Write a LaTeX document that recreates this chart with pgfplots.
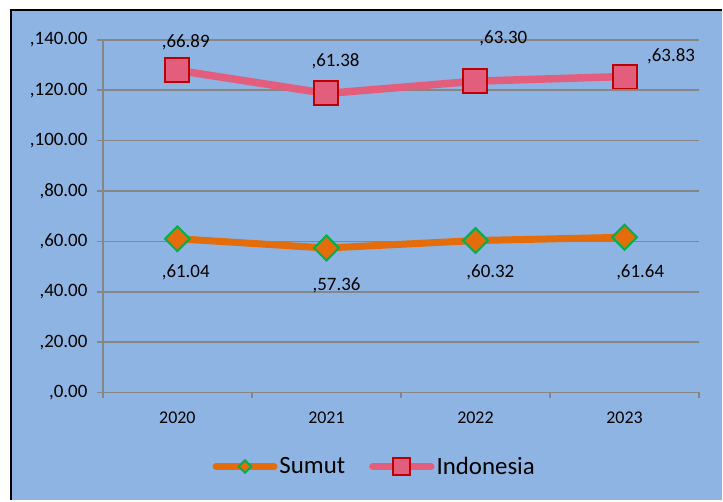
\documentclass[border=0pt]{standalone}
\usepackage{pgfplots}
\pgfplotsset{compat=1.18}
\usepackage{fontspec}
\setmainfont{Carlito}

\definecolor{bgblue}{RGB}{141,180,226}
\definecolor{gridgray}{RGB}{134,134,134}
\definecolor{sumut}{RGB}{228,108,10}
\definecolor{sumutedge}{RGB}{0,176,80}
\definecolor{indo}{RGB}{226,94,124}
\definecolor{indoedge}{RGB}{192,0,0}

\tikzset{
    datalbl/.style={anchor=base, font=\fontsize{19}{21}\selectfont, inner sep=0pt},
    legmark/.style={},
}

\begin{document}
\begin{tikzpicture}[x=1bp,y=1bp]
% chart area: white margin, blue fill, black frame on the visible sides
\fill[white] (0,0) rectangle (723,501);
\fill[bgblue] (11,0) rectangle (723,491);
\draw[black, line width=2bp] (11,0) -- (11,491) -- (723,491);
\path[use as bounding box] (0,0) rectangle (723,501);

\begin{axis}[
    at={(103bp,108bp)}, anchor=south west,
    scale only axis, width=597bp, height=353bp,
    xmin=-0.5, xmax=3.5, ymin=0, ymax=140,
    axis x line*=bottom, axis y line*=left,
    axis line style={gridgray, line width=1.6bp, -},
    ymajorgrids, grid style={gridgray, line width=1.6bp},
    ytick={0,20,...,140},
    yticklabels={{,0.00},{,20.00},{,40.00},{,60.00},{,80.00},{,100.00},{,120.00},{,140.00}},
    xtick={0,1,2,3}, xticklabels={2020,2021,2022,2023},
    minor xtick={-0.5,0.5,1.5,2.5,3.5},
    tick align=outside,
    major tick length=6bp, minor tick length=6bp,
    major x tick style={draw=none},
    minor x tick style={gridgray, line width=1.6bp},
    y tick style={gridgray, line width=1.6bp},
    yticklabel style={font=\fontsize{19}{21}\selectfont, xshift=-6bp},
    xticklabel style={font=\fontsize{18}{20}\selectfont, yshift=-10bp},
    stack plots=y,
    clip=false,
    legend columns=2,
    legend style={at={(0.456,-0.21)}, anchor=center, draw=none, fill=none,
        font=\fontsize{25}{28}\selectfont,
        /tikz/every even column/.append style={column sep=22bp}},
    legend image code/.code={
        \draw[mark repeat=2, mark phase=2, line cap=round, #1,
              every mark/.append style={legmark}]
            plot coordinates {(0bp,0bp) (29bp,0bp) (58bp,0bp)};
    },
]

% Sumut
\addplot[sumut, line width=7bp, mark=square*,
    mark size=8.8bp,
    mark options={rotate=45, fill=sumut, draw=sumutedge, line width=2bp},
    legmark/.style={scale=0.5}]
    coordinates {(0,61.04) (1,57.36) (2,60.32) (3,61.64)};
\addlegendentry{Sumut}

% Indonesia (stacked on Sumut)
\addplot[indo, line width=7.5bp, mark=square*,
    mark size=12bp,
    mark options={fill=indo, draw=indoedge, line width=2bp},
    legmark/.style={scale=0.7}]
    coordinates {(0,66.89) (1,61.38) (2,63.30) (3,63.83)};
\addlegendentry{Indonesia}

% data labels
\node[datalbl] at (axis cs:0.056,136.8) {,66.89};
\node[datalbl] at (axis cs:1.061,129.3) {,61.38};
\node[datalbl] at (axis cs:2.187,138.4) {,63.30};
\node[datalbl] at (axis cs:3.312,131.3) {,63.83};
\node[datalbl] at (axis cs:0.056,45.6) {,61.04};
\node[datalbl] at (axis cs:1.068,40.5) {,57.36};
\node[datalbl] at (axis cs:2.100,45.6) {,60.32};
\node[datalbl] at (axis cs:3.105,45.6) {,61.64};

\end{axis}
\end{tikzpicture}
\end{document}
